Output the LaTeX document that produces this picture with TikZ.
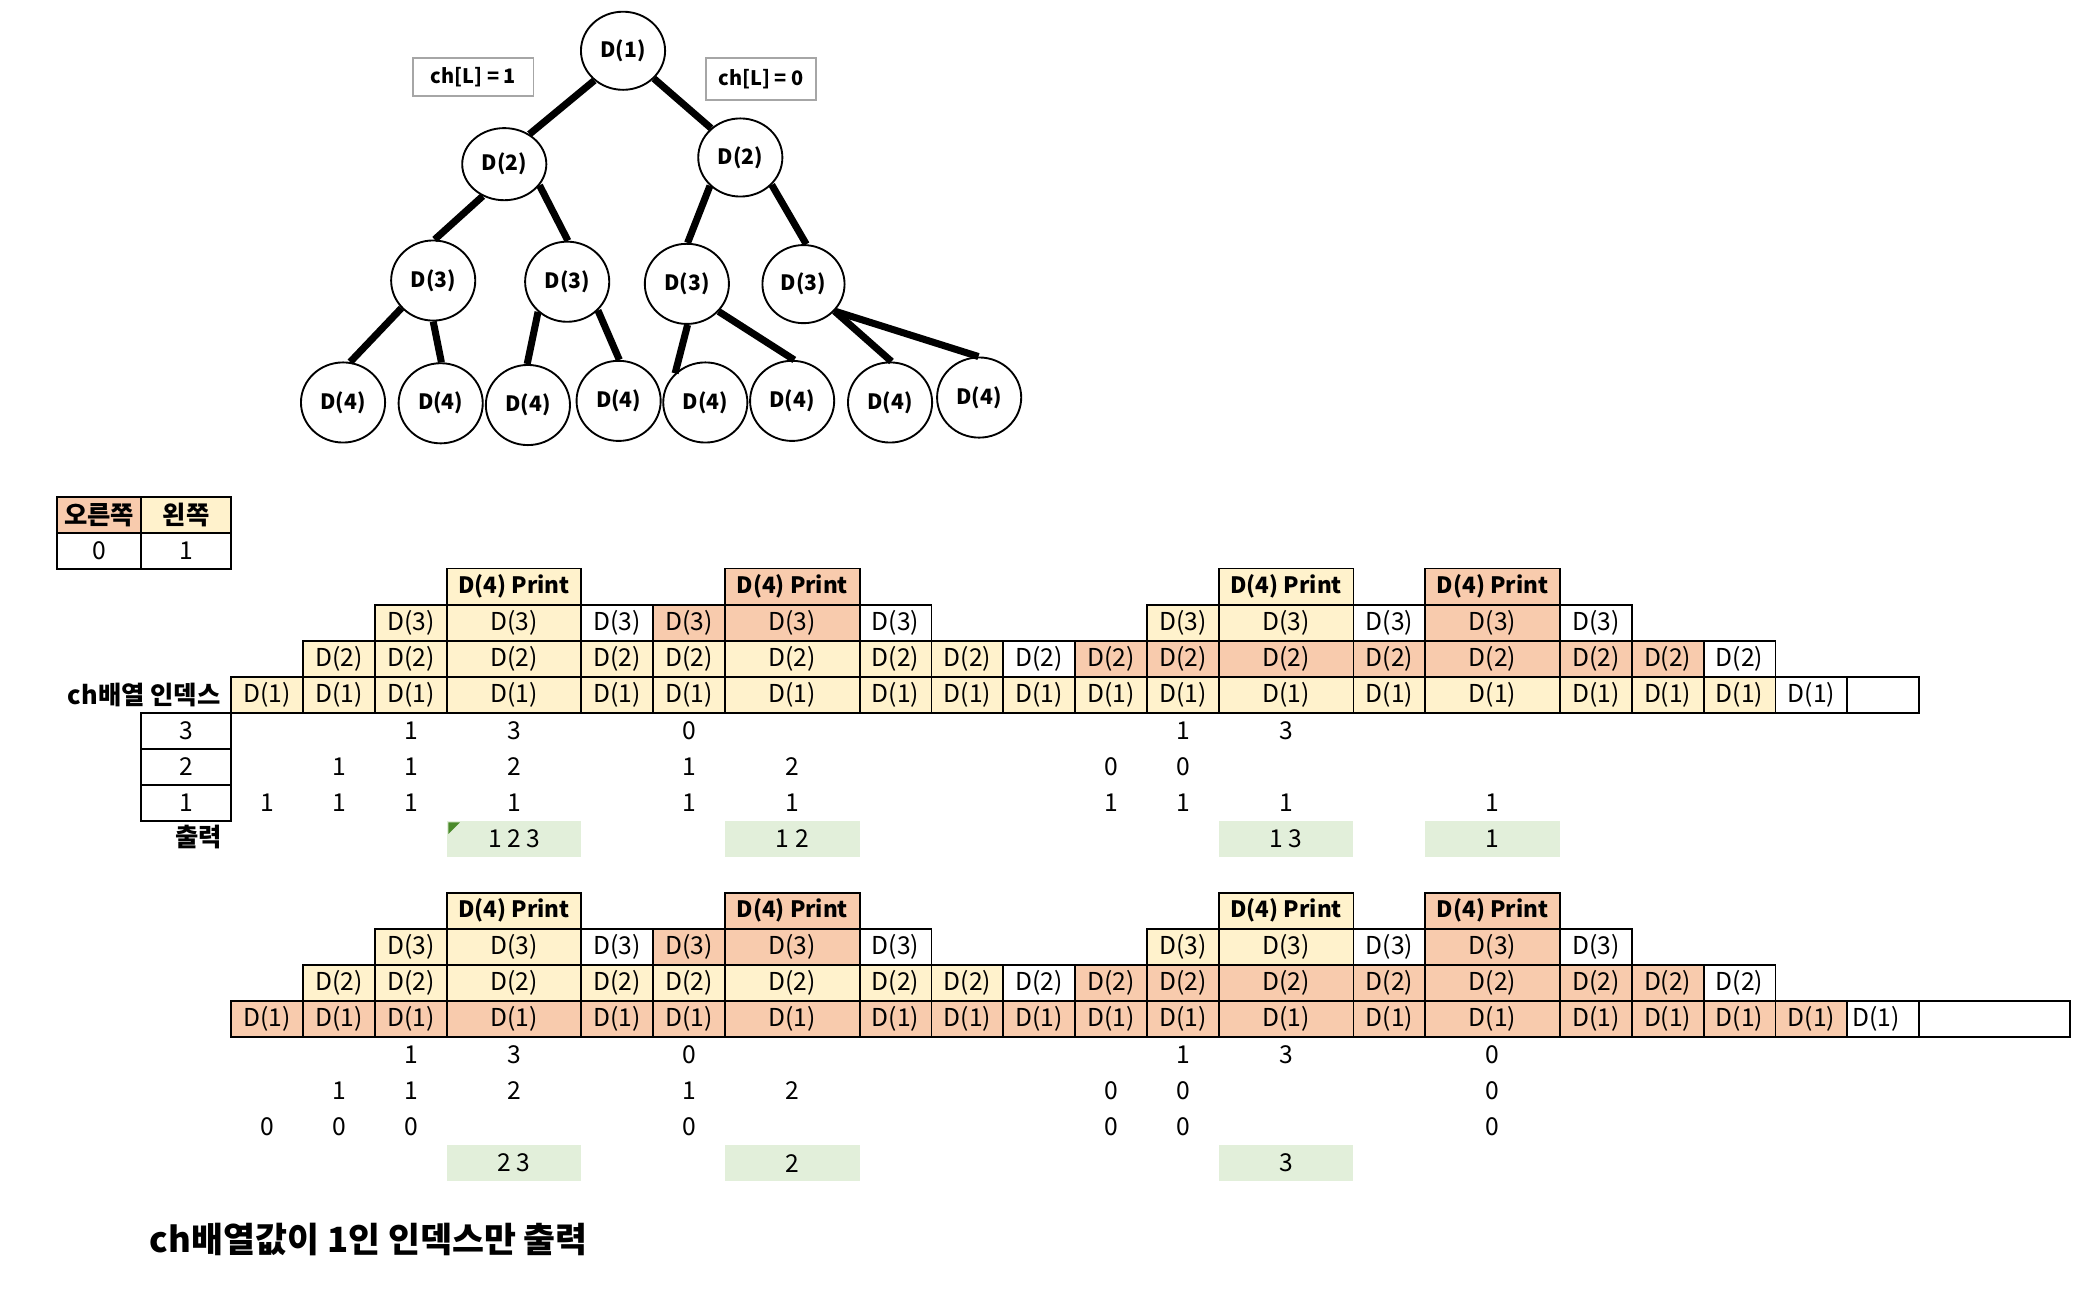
\documentclass[tikz,border=0pt]{standalone}
\usepackage{fontspec}
\setmainfont{Noto Sans CJK KR}
\usetikzlibrary{shapes.geometric}
\definecolor{cor}{HTML}{F8CBAD}
\definecolor{cy}{HTML}{FFF2CC}
\definecolor{cg}{HTML}{E2EFDA}
\definecolor{ctri}{HTML}{4A8A2A}
\definecolor{cbox}{HTML}{A6A6A6}
\def\edges{{173.1,226.9,280.7,334.5,435.2,489.0,542.8,643.5,697.3,751.1,804.9,858.7,912.5,1013.2,1067.0,1167.7,1221.5,1275.3,1329.1,1382.9,1436.7,1549.8}}
\tikzset{
  gridline/.style={draw=black,line width=0.8pt},
  ctext/.style={inner sep=0pt,font=\fontsize{10.5}{12}\selectfont},
  lbl/.style={inner sep=0pt,font=\fontsize{10.8}{13}\selectfont\bfseries},
  tnode/.style={ellipse,draw=black,line width=0.8pt,fill=white,minimum width=1.26cm,minimum height=1.2cm,inner sep=0pt,font=\fontsize{9}{11}\selectfont\bfseries},
  tedge/.style={line width=3pt,black},
  chbox/.style={draw=cbox,line width=0.8pt,inner sep=0pt,font=\fontsize{8.5}{10}\selectfont\bfseries}
}
\newcommand\prt{{\fontsize{9.6}{11}\selectfont\bfseries D(4) Print}}
\newcommand\tcell[5]{%
  \pgfmathsetmacro\myxl{\edges[#1-1]}%
  \pgfmathsetmacro\myxr{\edges[#1]}%
  \filldraw[gridline,fill=#3] (\myxl,#2) rectangle (\myxr,#2+26.97);%
  \node[ctext] (#5) at ({(\myxl+\myxr)/2},#2+13.485) {#4};}
\newcommand\vcell[4]{%
  \pgfmathsetmacro\myxl{\edges[#1-1]}%
  \pgfmathsetmacro\myxr{\edges[#1]}%
  \node[ctext] (#4) at ({(\myxl+\myxr)/2},#2) {#3};}
\newcommand\gcell[4]{%
  \pgfmathsetmacro\myxl{\edges[#1-1]}%
  \pgfmathsetmacro\myxr{\edges[#1]}%
  \fill[cg] (\myxl,#2) rectangle (\myxr,#2+26.97);%
  \node[ctext] (#4) at ({(\myxl+\myxr)/2},#2+13.485) {#3};}
\begin{document}
\begin{tikzpicture}[x=0.02cm,y=-0.02cm]
\fill[white] (0,0) rectangle (1560.1,965.7);
\useasboundingbox (0,0) rectangle (1560.1,965.7);

% ---------- tree ----------
\node[chbox,minimum width=1.8cm,minimum height=0.574cm] (chl1) at (354.4,57.6) {ch[L] = 1};
\node[chbox,minimum width=1.656cm,minimum height=0.634cm] (chl0) at (569.6,59.0) {ch[L] = 0};
\node[tnode,minimum height=1.17cm] (d1) at (466.4,38) {D(1)};
\node[tnode,minimum height=1.08cm] (d2l) at (377.5,122.9) {D(2)};
\node[tnode,minimum height=1.17cm] (d2r) at (554.2,117.9) {D(2)};
\node[tnode] (d3a) at (324.3,210) {D(3)};
\node[tnode] (d3b) at (424.6,210.9) {D(3)};
\node[tnode] (d3c) at (514.2,212.5) {D(3)};
\node[tnode,minimum width=1.23cm,minimum height=1.17cm] (d3d) at (601.5,212.7) {D(3)};
\node[tnode] (d4a) at (256.8,301.3) {D(4)};
\node[tnode] (d4b) at (329.9,301.9) {D(4)};
\node[tnode] (d4c) at (395.2,303.2) {D(4)};
\node[tnode] (d4d) at (463.1,300.1) {D(4)};
\node[tnode] (d4e) at (528,301.3) {D(4)};
\node[tnode] (d4f) at (593,300.1) {D(4)};
\node[tnode] (d4g) at (666.3,301.3) {D(4)};
\node[tnode] (d4h) at (733,297.6) {D(4)};
\draw[tedge] (d1.-134) -- (d2l.50);
\draw[tedge] (d1.-42) -- (d2r.135);
\draw[tedge] (d2l.-124) -- (d3a.88);
\draw[tedge] (d2l.-31) -- (d3b.89);
\draw[tedge] (d2r.-137) -- (d3c.89);
\draw[tedge] (d2r.-41) -- (d3d.86);
\draw[tedge] (d3a.-139) -- (d4a.80);
\draw[tedge] (d3a.-90) -- (d4b.89);
\draw[tedge] (d3b.-134) -- (d4c.91);
\draw[tedge] (d3b.-43) -- (d4d.89);
\draw[tedge] (d3c.-89) -- (d4e.136);
\draw[tedge] (d3c.-41) -- (d4f.87);
\draw[tedge] (d3d.-41) -- (d4g.88);
\draw[tedge] (d3d.-41) -- (d4h.91);

% ---------- legend table ----------
\filldraw[gridline,fill=cor] (42.7,372) rectangle (105.6,398.7);
\filldraw[gridline,fill=cy] (105.6,372) rectangle (173.1,398.7);
\draw[gridline] (42.7,398.7) rectangle (105.6,426);
\draw[gridline] (105.6,398.7) rectangle (173.1,426);
\node[lbl] (lgr) at (74.15,385.35) {오른쪽};
\node[lbl] (lgl) at (139.35,385.35) {왼쪽};
\node[ctext] (lg0) at (74.15,412.35) {0};
\node[ctext] (lg1) at (139.35,412.35) {1};

% ---------- table 1 ----------
\foreach \c in {1,...,18} {\tcell{\c}{506.6}{cy}{D(1)}{t1r1c\c}}
\tcell{19}{506.6}{white}{D(1)}{t1r1c19}
\tcell{20}{506.6}{white}{}{t1r1c20}
\foreach \c in {2,...,9} {\tcell{\c}{479.6}{cy}{D(2)}{t1r2c\c}}
\tcell{10}{479.6}{white}{D(2)}{t1r2c10}
\foreach \c in {11,...,17} {\tcell{\c}{479.6}{cor}{D(2)}{t1r2c\c}}
\tcell{18}{479.6}{white}{D(2)}{t1r2c18}
\foreach \c/\f in {3/cy,4/cy,5/white,6/cor,7/cor,8/white,12/cy,13/cy,14/white,15/cor,16/white} {\tcell{\c}{452.6}{\f}{D(3)}{t1r3c\c}}
\foreach \c/\f in {4/cy,7/cor,13/cy,15/cor} {\tcell{\c}{425.6}{\f}{\prt}{t1r4c\c}}

\node[lbl,anchor=east] (chidx) at (165.5,520) {ch배열 인덱스};
\foreach \v/\y in {3/533.5,2/560.5,1/587.5} {
  \filldraw[gridline,fill=white] (105.6,\y) rectangle (173.1,\y+26.97);
  \node[ctext] (idx\v) at (139.35,\y+13.485) {\v};
}
\node[lbl,anchor=east] (outlbl) at (166.7,626.3) {출력};

\foreach \c/\v in {3/1,4/3,6/0,12/1,13/3} {\vcell{\c}{547}{\v}{t1va\c}}
\foreach \c/\v in {2/1,3/1,4/2,6/1,7/2,11/0,12/0} {\vcell{\c}{574}{\v}{t1vb\c}}
\foreach \c/\v in {1/1,2/1,3/1,4/1,6/1,7/1,11/1,12/1,13/1,15/1} {\vcell{\c}{601}{\v}{t1vc\c}}
\gcell{4}{614.5}{1 2 3}{t1o4}
\gcell{7}{614.5}{1 2}{t1o7}
\gcell{13}{614.5}{1 3}{t1o13}
\gcell{15}{614.5}{1}{t1o15}
\fill[ctri] (335.6,615.6) -- ++(8.7,0) -- ++(-8.7,8.7) -- cycle;

% ---------- table 2 ----------
\foreach \c in {1,...,19} {\tcell{\c}{749.3}{cor}{D(1)}{t2r1c\c}}
\filldraw[gridline,fill=white] (1382.9,749.3) rectangle (1436.7,776.27);
\node[ctext,anchor=west] (t2r1c20) at (1386.5,762.8) {D(1)};
\tcell{21}{749.3}{white}{}{t2r1c21}
\foreach \c in {2,...,9} {\tcell{\c}{722.3}{cy}{D(2)}{t2r2c\c}}
\tcell{10}{722.3}{white}{D(2)}{t2r2c10}
\foreach \c in {11,...,17} {\tcell{\c}{722.3}{cor}{D(2)}{t2r2c\c}}
\tcell{18}{722.3}{white}{D(2)}{t2r2c18}
\foreach \c/\f in {3/cy,4/cy,5/white,6/cor,7/cor,8/white,12/cy,13/cy,14/white,15/cor,16/white} {\tcell{\c}{695.3}{\f}{D(3)}{t2r3c\c}}
\foreach \c/\f in {4/cy,7/cor,13/cy,15/cor} {\tcell{\c}{668.3}{\f}{\prt}{t2r4c\c}}

\foreach \c/\v in {3/1,4/3,6/0,12/1,13/3,15/0} {\vcell{\c}{789.7}{\v}{t2va\c}}
\foreach \c/\v in {2/1,3/1,4/2,6/1,7/2,11/0,12/0,15/0} {\vcell{\c}{816.7}{\v}{t2vb\c}}
\foreach \c/\v in {1/0,2/0,3/0,6/0,11/0,12/0,15/0} {\vcell{\c}{843.7}{\v}{t2vc\c}}
\gcell{4}{857.2}{2 3}{t2o4}
\gcell{7}{857.2}{2}{t2o7}
\gcell{13}{857.2}{3}{t2o13}

\node[inner sep=0pt,anchor=west,font=\fontsize{14.8}{17}\selectfont\bfseries] (note) at (111.8,927.7) {ch배열값이 1인 인덱스만 출력};
\end{tikzpicture}
\end{document}
